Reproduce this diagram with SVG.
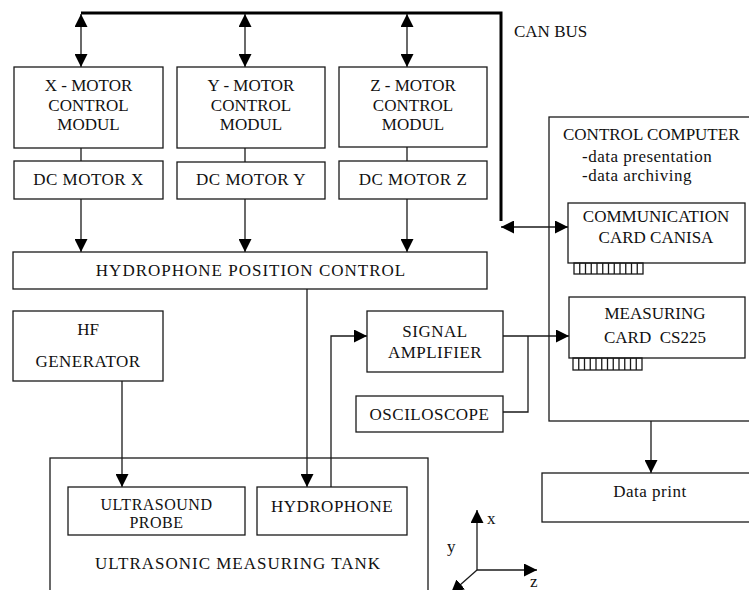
<svg xmlns="http://www.w3.org/2000/svg" width="749" height="590" viewBox="0 0 749 590">
<style>
.box{fill:none;stroke:#1a1a1a;stroke-width:1.3}
.ln{fill:none;stroke:#1a1a1a;stroke-width:1.3}
.bus{fill:none;stroke:#000;stroke-width:3}
text{font-family:'Liberation Serif','DejaVu Serif','Times New Roman',serif;font-size:17px;fill:#111}
.c{text-anchor:middle}
.sp{letter-spacing:1px}
.sp5{letter-spacing:0.5px}
.sm{font-size:16px}
</style>
<defs>
<marker id="ah" viewBox="0 0 13 13" refX="13" refY="6.5" markerWidth="13" markerHeight="13" markerUnits="userSpaceOnUse" orient="auto-start-reverse">
<path d="M0,0 L13,6.5 L0,13 z" fill="#000"/>
</marker>
</defs>
<rect width="749" height="590" fill="#fff"/>

<g id="connectors">
<path class="bus" d="M81,13 H501 V221"/>
<line class="ln" x1="81" y1="14" x2="81" y2="67" marker-start="url(#ah)" marker-end="url(#ah)"/>
<line class="ln" x1="245" y1="14" x2="245" y2="67" marker-start="url(#ah)" marker-end="url(#ah)"/>
<line class="ln" x1="407" y1="14" x2="407" y2="67" marker-start="url(#ah)" marker-end="url(#ah)"/>
<line class="ln" x1="81" y1="148" x2="81" y2="161"/>
<line class="ln" x1="245" y1="148" x2="245" y2="162"/>
<line class="ln" x1="407" y1="147" x2="407" y2="161"/>
<line class="ln" x1="81" y1="199" x2="81" y2="252" marker-end="url(#ah)"/>
<line class="ln" x1="245" y1="199" x2="245" y2="252" marker-end="url(#ah)"/>
<line class="ln" x1="407" y1="199" x2="407" y2="252" marker-end="url(#ah)"/>
<line class="ln" x1="501" y1="227" x2="568" y2="227" marker-start="url(#ah)" marker-end="url(#ah)"/>
<line class="ln" x1="307" y1="289" x2="307" y2="487" marker-end="url(#ah)"/>
<line class="ln" x1="122" y1="381" x2="122" y2="487" marker-end="url(#ah)"/>
<path class="ln" d="M331,487 V336 H367" marker-end="url(#ah)"/>
<line class="ln" x1="503" y1="336" x2="569" y2="336" marker-end="url(#ah)"/>
<path class="ln" d="M528,336 V412 H503"/>
<line class="ln" x1="651" y1="421" x2="651" y2="473" marker-end="url(#ah)"/>
</g>

<g id="can-bus-label"><text x="514" y="37">CAN BUS</text></g>

<g id="x-motor-control">
<rect class="box" x="14" y="67" width="149" height="81"/>
<text class="c" x="88.5" y="91">X - MOTOR</text>
<text class="c" x="88.5" y="111">CONTROL</text>
<text class="c" x="88.5" y="130">MODUL</text>
</g>
<g id="y-motor-control">
<rect class="box" x="177" y="67" width="148" height="81"/>
<text class="c" x="251" y="91">Y - MOTOR</text>
<text class="c" x="251" y="111">CONTROL</text>
<text class="c" x="251" y="130">MODUL</text>
</g>
<g id="z-motor-control">
<rect class="box" x="339" y="67" width="148" height="80"/>
<text class="c" x="413" y="91">Z - MOTOR</text>
<text class="c" x="413" y="111">CONTROL</text>
<text class="c" x="413" y="130">MODUL</text>
</g>
<g id="dc-motor-x">
<rect class="box" x="14" y="161" width="149" height="38"/>
<text class="c sp5" x="88.5" y="185">DC MOTOR X</text>
</g>
<g id="dc-motor-y">
<rect class="box" x="177" y="162" width="148" height="37"/>
<text class="c sp5" x="251" y="185">DC MOTOR Y</text>
</g>
<g id="dc-motor-z">
<rect class="box" x="339" y="161" width="148" height="38"/>
<text class="c sp5" x="413" y="185">DC MOTOR Z</text>
</g>
<g id="hydrophone-position-control">
<rect class="box" x="13" y="252" width="474" height="37"/>
<text class="c sp" x="251" y="276">HYDROPHONE POSITION CONTROL</text>
</g>
<g id="hf-generator">
<rect class="box" x="13" y="311" width="150" height="70"/>
<text class="c" x="88" y="335">HF</text>
<text class="c sp5" x="88" y="367">GENERATOR</text>
</g>
<g id="signal-amplifier">
<rect class="box" x="367" y="311" width="136" height="61"/>
<text class="c sp5" x="435" y="337">SIGNAL</text>
<text class="c sp5" x="435" y="358">AMPLIFIER</text>
</g>
<g id="osciloscope">
<rect class="box" x="356" y="396" width="147" height="36"/>
<text class="c sp5" x="429.5" y="420">OSCILOSCOPE</text>
</g>
<g id="ultrasonic-measuring-tank">
<rect class="box" x="50" y="458" width="378" height="200"/>
<text class="c sp" x="238" y="569">ULTRASONIC MEASURING TANK</text>
</g>
<g id="ultrasound-probe">
<rect class="box" x="68" y="487" width="177" height="48"/>
<text class="c sp5 sm" x="156.5" y="510">ULTRASOUND</text>
<text class="c sp5 sm" x="156.5" y="528">PROBE</text>
</g>
<g id="hydrophone">
<rect class="box" x="257" y="487" width="150" height="48"/>
<text class="c sp5" x="332" y="512">HYDROPHONE</text>
</g>
<g id="control-computer">
<rect class="box" x="549" y="117" width="250" height="304"/>
<text x="563" y="140">CONTROL COMPUTER</text>
<text class="sp5" x="582" y="162">-data presentation</text>
<text class="sp5" x="582" y="181">-data archiving</text>
</g>
<g id="communication-card">
<rect class="box" x="568" y="203" width="177" height="60"/>
<text class="c" x="656" y="222">COMMUNICATION</text>
<text class="c" x="656" y="243">CARD CANISA</text>
<rect class="ln" x="574" y="263" width="69" height="11"/>
<path class="ln" stroke-width="1" d="M579.75,263V274M585.5,263V274M591.25,263V274M597,263V274M602.75,263V274M608.5,263V274M614.25,263V274M620,263V274M625.75,263V274M631.5,263V274M637.25,263V274"/>
</g>
<g id="measuring-card">
<rect class="box" x="569" y="297" width="176" height="61"/>
<text class="c" x="655" y="319">MEASURING</text>
<text class="c" x="655" y="343" xml:space="preserve">CARD  CS225</text>
<rect class="ln" x="573" y="358" width="69" height="12"/>
<path class="ln" stroke-width="1" d="M578.75,358V370M584.5,358V370M590.25,358V370M596,358V370M601.75,358V370M607.5,358V370M613.25,358V370M619,358V370M624.75,358V370M630.5,358V370M636.25,358V370"/>
</g>
<g id="data-print">
<rect class="box" x="542" y="473" width="250" height="49"/>
<text class="c sp5" x="650" y="497">Data print</text>
</g>
<g id="axes">
<line class="ln" x1="477" y1="570" x2="477" y2="510" marker-end="url(#ah)"/>
<line class="ln" x1="477" y1="570" x2="537" y2="570" marker-end="url(#ah)"/>
<line class="ln" stroke-width="1" x1="477" y1="570" x2="451" y2="593" marker-end="url(#ah)"/>
<text x="487" y="524">x</text>
<text x="447" y="552">y</text>
<text x="530" y="587">z</text>
</g>
</svg>
